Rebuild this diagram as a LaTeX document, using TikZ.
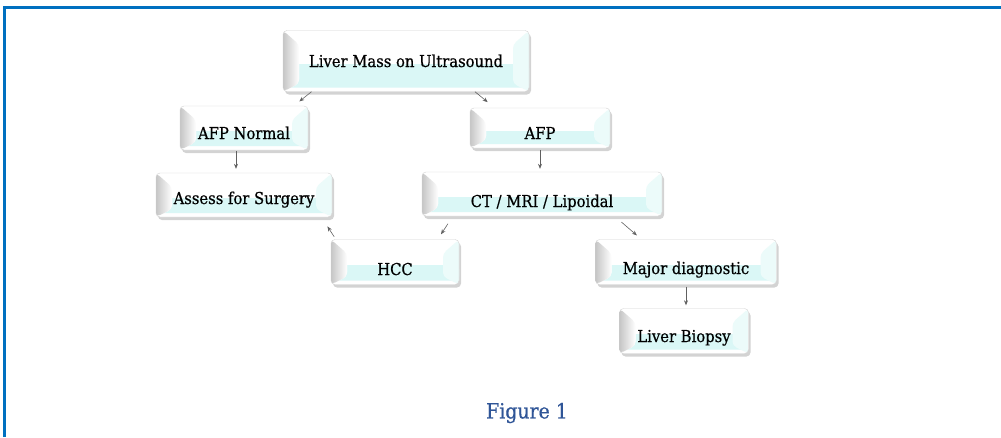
\documentclass[tikz,border=0pt]{standalone}
\usepackage{fontspec}
\setmainfont{DejaVu Serif}[FakeStretch=0.9, FakeBold=0.6]
\usepackage{tikz}
\usepackage{xcolor}
\usetikzlibrary{arrows.meta,shadows}

\definecolor{frameblue}{HTML}{0070C0}
\definecolor{figblue}{HTML}{2F5597}
\definecolor{facecyan}{HTML}{DAF7F6}

\begin{document}
\begin{tikzpicture}[x=1pt, y=-1pt,
  flowbox/.style={rounded corners=4pt, draw=gray!35, fill=white, inner sep=0pt,
    font=\fontsize{16.4}{18}\selectfont, minimum height=44pt,
    text height=22pt, text depth=0pt,
    drop shadow={shadow xshift=2pt, shadow yshift=-3pt, opacity=.35, fill=gray},
    path picture={
      \fill[facecyan] ([yshift=4pt]path picture bounding box.south west) rectangle ([yshift=-3pt]path picture bounding box.east);
      \fill[left color=gray!45, right color=white] (path picture bounding box.north west) -- ([xshift=16pt,yshift=-14pt]path picture bounding box.north west) -- ([xshift=16pt,yshift=8pt]path picture bounding box.south west) -- (path picture bounding box.south west) -- cycle;
      \fill[facecyan!50] (path picture bounding box.north east) -- ([xshift=-16pt,yshift=-14pt]path picture bounding box.north east) -- ([xshift=-16pt,yshift=8pt]path picture bounding box.south east) -- (path picture bounding box.south east) -- cycle;
    }},
  link/.style={draw=gray!75!black, line width=0.6pt, -{Stealth[length=5pt,width=4pt]}}]
  \useasboundingbox (0,0) rectangle (1001,437);

  % Frame
  \draw[line width=3pt, frameblue] (4.5,437) -- (4.5,7) -- (1001,7);

  % Boxes
  \node[flowbox, minimum width=246pt, minimum height=61pt, text height=12pt] (liver) at (406,61) {Liver Mass on Ultrasound};
  \node[flowbox, minimum width=128pt] (afpnormal) at (244,128) {AFP Normal};
  \node[flowbox, minimum width=140pt, minimum height=40pt] (afp) at (540,128) {AFP};
  \node[flowbox, minimum width=176pt, text height=18pt] (surgery) at (244,195) {Assess for Surgery};
  \node[flowbox, minimum width=240pt, text height=26pt] (imaging) at (542,194) {CT / MRI / Lipoidal};
  \node[flowbox, minimum width=128pt, minimum height=45pt, text height=26pt] (hcc) at (395,262) {HCC};
  \node[flowbox, minimum width=181pt, minimum height=45pt, text height=24pt] (major) at (686,262) {Major diagnostic};
  \node[flowbox, minimum width=129pt, minimum height=45pt] (biopsy) at (684,331) {Liver Biopsy};

  % Caption
  \node[font=\fontsize{21}{24}\selectfont, text=figblue] (caption) at (527,413) {Figure 1};

  % Arrows
  \draw[link, shorten >=7pt] (liver.198) -- (afpnormal.24);
  \draw[link, shorten >=9pt] (liver.-24) -- (afp.156);
  \draw[link, shorten <=1pt, shorten >=4pt] ([xshift=-8pt]afpnormal.south) -- ([xshift=-8pt]afpnormal.south |- surgery.north);
  \draw[link, shorten <=2pt, shorten >=3pt] (afp.south) -- (afp.south |- imaging.north);
  \draw[link, shorten <=9pt, shorten >=6pt] (imaging.194) -- (hcc.28);
  \draw[link, shorten <=3pt, shorten >=11pt] (hcc.159) -- (surgery.-16);
  \draw[link, shorten <=9pt, shorten >=6pt] (imaging.-17) -- (major.153);
  \draw[link, shorten <=2pt, shorten >=3pt] (major.south) -- (major.south |- biopsy.north);
\end{tikzpicture}
\end{document}
